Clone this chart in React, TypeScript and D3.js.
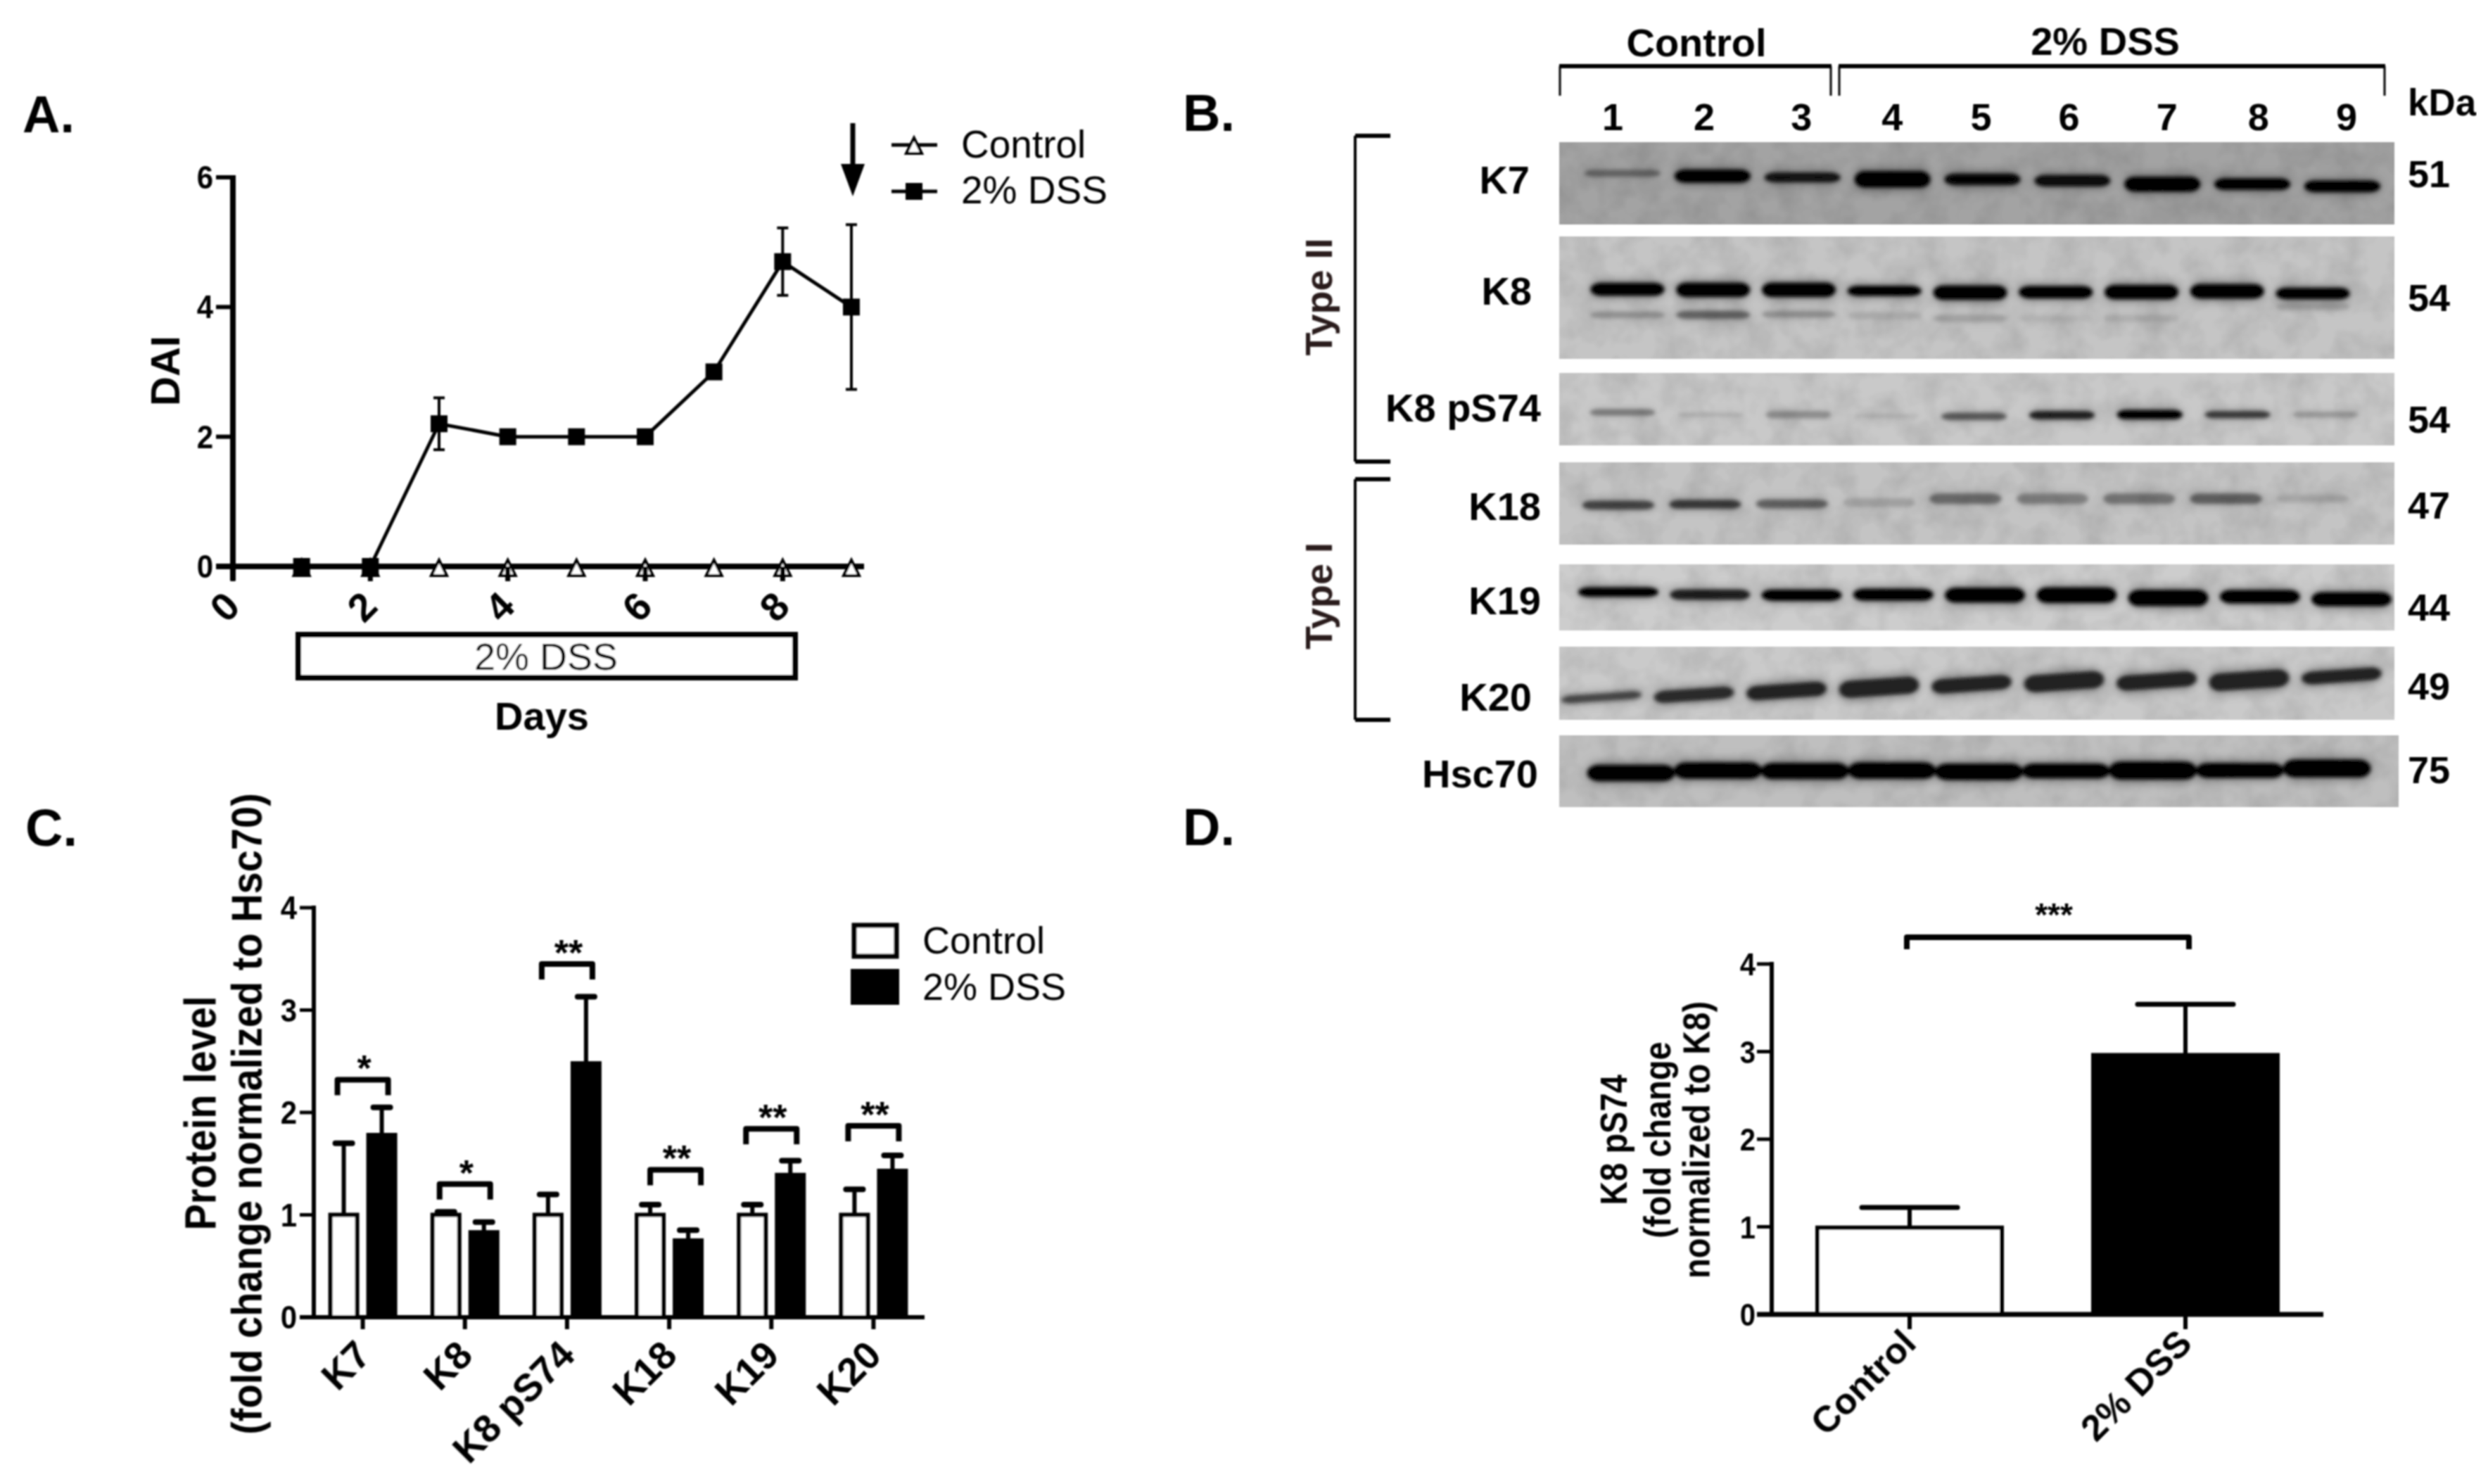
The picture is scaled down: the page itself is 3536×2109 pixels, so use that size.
import React from 'react';
import * as d3 from 'd3';

// ---------- Panel A data ----------
const days = [1, 2, 3, 4, 5, 6, 7, 8, 9];
const controlDai = [0, 0, 0, 0, 0, 0, 0, 0, 0];
const dssDai = [0, 0, 2.2, 2, 2, 2, 3, 4.7, 4];
const dssDaiUpper = [0, 0, 2.6, 2, 2, 2, 3, 5.22, 5.27];
const dssDaiLower = [0, 0, 1.8, 2, 2, 2, 3, 4.18, 2.73];
const daiYTicks = [0, 2, 4, 6];
const daiXTicks = [0, 2, 4, 6, 8];

// ---------- Panel B data ----------
const lanes = [1, 2, 3, 4, 5, 6, 7, 8, 9];
const k7Density = [0.35, 1, 0.85, 1, 0.95, 0.9, 1, 1, 1];
const k7Migration = [0.378, 0.412, 0.429, 0.452, 0.452, 0.469, 0.51, 0.51, 0.537];
const k7Thickness = [0.07, 0.136, 0.102, 0.17, 0.12, 0.12, 0.153, 0.12, 0.12];
const k8Density = [1, 1, 1, 1, 1, 1, 1, 1, 1];
const k8Migration = [0.432, 0.436, 0.436, 0.445, 0.459, 0.455, 0.455, 0.448, 0.466];
const k8Thickness = [0.09, 0.1, 0.1, 0.07, 0.1, 0.086, 0.1, 0.1, 0.08];
const k8LowerDensity = [0.3, 0.6, 0.3, 0.13, 0.2, 0.08, 0.12, 0, 0.2];
const k8LowerMigration = [0.641, 0.641, 0.636, 0.648, 0.67, 0.67, 0.67, 0.67, 0.573];
const k8LowerThickness = [0.05, 0.06, 0.05, 0.055, 0.055, 0.05, 0.055, 0.05, 0.055];
const pS74Density = [0.35, 0.1, 0.25, 0.08, 0.5, 0.8, 1, 0.65, 0.2];
const pS74Migration = [0.544, 0.575, 0.575, 0.594, 0.6, 0.582, 0.575, 0.575, 0.575];
const pS74Thickness = [0.077, 0.057, 0.084, 0.057, 0.084, 0.096, 0.107, 0.084, 0.07];
const k18Density = [0.6, 0.65, 0.45, 0.15, 0.4, 0.3, 0.35, 0.45, 0.12];
const k18Migration = [0.52, 0.51, 0.505, 0.489, 0.443, 0.443, 0.443, 0.443, 0.443];
const k18Thickness = [0.09, 0.09, 0.09, 0.09, 0.107, 0.107, 0.107, 0.107, 0.076];
const k19Density = [1, 0.8, 1, 1, 1, 1, 1, 1, 1];
const k19Migration = [0.42, 0.458, 0.466, 0.458, 0.466, 0.466, 0.508, 0.489, 0.527];
const k19Thickness = [0.122, 0.134, 0.145, 0.153, 0.19, 0.2, 0.21, 0.172, 0.183];
const k20Density = [0.7, 0.9, 0.95, 0.95, 0.95, 0.95, 0.95, 0.95, 0.95];
const k20Migration = [0.692, 0.658, 0.606, 0.555, 0.514, 0.479, 0.469, 0.459, 0.4];
const k20Thickness = [0.096, 0.144, 0.171, 0.2, 0.171, 0.2, 0.178, 0.205, 0.154];
const hscDensity = [1, 1, 1, 1, 1, 1, 1, 1, 1];
const hscMigration = [0.526, 0.491, 0.498, 0.491, 0.509, 0.498, 0.491, 0.491, 0.463];
const hscThickness = [0.193, 0.193, 0.193, 0.193, 0.193, 0.175, 0.21, 0.175, 0.21];

// ---------- Panel C data ----------
const proteins = ['K7', 'K8', 'K8 pS74', 'K18', 'K19', 'K20'];
const controlLevel = [1, 1, 1, 1, 1, 1];
const dssLevel = [1.78, 0.83, 2.48, 0.75, 1.39, 1.43];
const controlUpper = [1.7, 1.03, 1.2, 1.1, 1.1, 1.25];
const dssUpper = [2.05, 0.93, 3.13, 0.85, 1.53, 1.58];
const bracketLevel = [2.32, 1.3, 3.45, 1.44, 1.84, 1.87];
const significance = ['*', '*', '**', '**', '**', '**'];
const levelTicks = [0, 1, 2, 3, 4];

// ---------- Panel D data ----------
const groups = ['Control', '2% DSS'];
const ratioValues = [0.99, 2.96];
const ratioUpper = [1.22, 3.54];
const ratioTicks = [0, 1, 2, 3, 4];

const FONT = '"Liberation Sans", Arial, sans-serif';

function T({ x, y, size, rotate = 0, stretch = 1, weight = 'bold', anchor = 'middle', fill = '#000', children }: any) {
  return (
    <text
      transform={`translate(${x},${y}) rotate(${rotate}) scale(1,${stretch})`}
      fontFamily={FONT}
      fontSize={size}
      fontWeight={weight}
      textAnchor={anchor}
      fill={fill}
    >
      {children}
    </text>
  );
}

function PanelA() {
  const x = d3.scaleLinear().domain([0, 9]).range([331, 1210]);
  const y = d3.scaleLinear().domain([0, 6]).range([805, 252]);
  const line = d3.line<number>().x((_, i) => x(days[i])).y((d) => y(d));
  const tri = (cx: number, cy: number, s = 11) => `M${cx},${cy - 11} L${cx + s},${cy + 11} L${cx - s},${cy + 11} Z`;
  return (
    <g>
      <T x={32} y={188} size={74} anchor="start">A.</T>
      <line x1={x(0)} x2={x(0)} y1={y(6) - 3} y2={825} stroke="#000" strokeWidth={8} />
      {daiYTicks.map((t) => (
        <g key={t}>
          <line x1={307} x2={x(0)} y1={y(t)} y2={y(t)} stroke="#000" strokeWidth={6} />
          <T x={303} y={y(t) + 16} size={42} stretch={1.1} anchor="end">{t}</T>
        </g>
      ))}
      <path d={line(controlDai) as string} fill="none" stroke="#000" strokeWidth={8} />
      <line x1={307} x2={1228} y1={y(0)} y2={y(0)} stroke="#000" strokeWidth={8} />
      {days.map((d, i) => (
        <path key={d} d={tri(x(d), y(controlDai[i]) + 2)} fill="#fff" stroke="#000" strokeWidth={4} />
      ))}
      {daiXTicks.map((t) => (
        <g key={t}>
          <line x1={x(t)} x2={x(t)} y1={y(0)} y2={826} stroke="#000" strokeWidth={7} />
          <T x={x(t) + 2} y={876} size={56} rotate={-45}>{t}</T>
        </g>
      ))}
      <path d={line(dssDai) as string} fill="none" stroke="#000" strokeWidth={5} />
      {days.map((d, i) => (
        <g key={d}>
          {dssDaiUpper[i] !== dssDaiLower[i] && (
            <g stroke="#000" strokeWidth={4}>
              <line x1={x(d)} x2={x(d)} y1={y(dssDaiUpper[i])} y2={y(dssDaiLower[i])} />
              <line x1={x(d) - 8} x2={x(d) + 8} y1={y(dssDaiUpper[i])} y2={y(dssDaiUpper[i])} />
              <line x1={x(d) - 8} x2={x(d) + 8} y1={y(dssDaiLower[i])} y2={y(dssDaiLower[i])} />
            </g>
          )}
          <rect x={x(d) - 12} y={y(dssDai[i]) - 12} width={24} height={24} fill="#000" />
        </g>
      ))}
      <T x={255} y={527} size={58} rotate={-90}>DAI</T>
      <rect x={424} y={902} width={706} height={61} fill="#fff" stroke="#000" strokeWidth={8} />
      <T x={776} y={952} size={54} weight="normal">2% DSS</T>
      <T x={770} y={1037} size={56}>Days</T>
      <line x1={1212} x2={1212} y1={175} y2={240} stroke="#000" strokeWidth={7} />
      <path d="M1195,233 L1229,233 L1212,279 Z" fill="#000" />
      <line x1={1267} x2={1332} y1={206} y2={206} stroke="#000" strokeWidth={5} />
      <path d={tri(1299, 207)} fill="#fff" stroke="#000" strokeWidth={4} />
      <T x={1366} y={224} size={55} weight="normal" anchor="start">Control</T>
      <line x1={1267} x2={1332} y1={272} y2={272} stroke="#000" strokeWidth={5} />
      <rect x={1287} y={260} width={24} height={24} fill="#000" />
      <T x={1366} y={289} size={55} weight="normal" anchor="start">2% DSS</T>
    </g>
  );
}

function PanelB() {
  const rows = [
    { name: 'K7', kDa: 51, top: 202, bottom: 319, bg: '#a3a3a3', x0: 2306, x1: 3329, w: 108, lx: 2174, ly: 275, ky: 266, density: k7Density, migration: k7Migration, thickness: k7Thickness },
    { name: 'K8', kDa: 54, top: 336, bottom: 510, bg: '#c5c5c5', x0: 2313, x1: 3287, w: 105, lx: 2177, ly: 433, ky: 442, density: k8Density, migration: k8Migration, thickness: k8Thickness, lowerD: k8LowerDensity, lowerM: k8LowerMigration, lowerT: k8LowerThickness },
    { name: 'K8 pS74', kDa: 54, top: 530, bottom: 633, bg: '#c9c9c9', x0: 2306, x1: 3305, w: 93, lx: 2190, ly: 599, ky: 615, density: pS74Density, migration: pS74Migration, thickness: pS74Thickness },
    { name: 'K18', kDa: 47, top: 657, bottom: 774, bg: '#c4c4c4', x0: 2300, x1: 3287, w: 102, lx: 2190, ly: 739, ky: 737, density: k18Density, migration: k18Migration, thickness: k18Thickness },
    { name: 'K19', kDa: 44, top: 802, bottom: 896, bg: '#cdcdcd', x0: 2300, x1: 3342, w: 114, lx: 2190, ly: 873, ky: 882, density: k19Density, migration: k19Migration, thickness: k19Thickness },
    { name: 'K20', kDa: 49, top: 919, bottom: 1023, bg: '#cacaca', x0: 2276, x1: 3328, w: 114, lx: 2177, ly: 1010, ky: 994, density: k20Density, migration: k20Migration, thickness: k20Thickness, tilt: -4, band: '#1c1c1c' },
    { name: 'Hsc70', kDa: 75, top: 1045, bottom: 1147, bg: '#bfbfbf', x0: 2318, x1: 3307, w: 125, lx: 2186, ly: 1119, ky: 1113, density: hscDensity, migration: hscMigration, thickness: hscThickness },
  ] as any[];
  const laneLabelX = d3.scalePoint<number>().domain(lanes).range([2292, 3333]);
  const laneNudge = [0, 0, 8, 7, 3, -2, 7, 7, 2];
  return (
    <g>
      <defs>
        <filter id="bandCore" x="-20%" y="-80%" width="140%" height="260%">
          <feGaussianBlur stdDeviation="2.5" />
        </filter>
        <filter id="bandHalo" x="-20%" y="-120%" width="140%" height="340%">
          <feGaussianBlur stdDeviation="7" />
        </filter>
        <filter id="mottle" x="0" y="0" width="100%" height="100%">
          <feTurbulence type="fractalNoise" baseFrequency="0.025" numOctaves="3" seed="4" />
          <feColorMatrix values="0 0 0 0 0  0 0 0 0 0  0 0 0 0 0  0.55 0 0 0 -0.2" />
        </filter>
      </defs>
      <T x={1681} y={186} size={74} anchor="start">B.</T>
      <T x={2411} y={80} size={56}>Control</T>
      <T x={2992} y={78} size={56}>2% DSS</T>
      <path d="M2217,136 V94" stroke="#000" strokeWidth={3} />
      <path d="M2602,136 V94" stroke="#000" strokeWidth={3} />
      <path d="M2614,136 V94" stroke="#000" strokeWidth={3} />
      <path d="M3389,136 V94" stroke="#000" strokeWidth={3} />
      <path d="M2216,94 H2603" stroke="#000" strokeWidth={6} />
      <path d="M2613,94 H3390" stroke="#000" strokeWidth={6} />
      <T x={3422} y={164} size={53} anchor="start">kDa</T>
      {lanes.map((l, i) => (
        <T key={l} x={(laneLabelX(l) as number) + laneNudge[i]} y={185} size={54}>{l}</T>
      ))}
      <path d="M1926,193 V656" stroke="#000" strokeWidth={4} />
      <path d="M1926,193 H1976 M1926,656 H1976" stroke="#000" strokeWidth={6} />
      <path d="M1926,681 V1023" stroke="#000" strokeWidth={4} />
      <path d="M1926,681 H1976 M1926,1023 H1976" stroke="#000" strokeWidth={6} />
      <T x={1893} y={422} size={54} rotate={-90} fill="#2a1f1f">Type II</T>
      <T x={1893} y={847} size={54} rotate={-90} fill="#2a1f1f">Type I</T>
      {rows.map((r) => {
        const lx = d3.scalePoint<number>().domain(lanes).range([r.x0, r.x1]);
        const my = d3.scaleLinear().domain([0, 1]).range([r.top, r.bottom]);
        const h = r.bottom - r.top;
        const width = r.name === 'Hsc70' ? 1193 : 1187;
        const clip = `clip-${r.name.replace(' ', '')}`;
        const drawBands = (den: number[], mig: number[], thk: number[], scale: number, alpha: number) =>
          lanes.map((l, i) => {
            const bh = Math.max(thk[i] * h * scale, 6);
            const cx = lx(l) as number;
            const cy = my(mig[i]);
            return (
              <rect
                key={l}
                x={cx - r.w / 2}
                y={cy - bh / 2}
                width={r.w}
                height={bh}
                rx={r.w * 0.14}
                ry={bh / 2}
                fill={r.band || '#000'}
                opacity={den[i] * alpha}
                transform={r.tilt ? `rotate(${r.tilt} ${cx} ${cy})` : undefined}
              />
            );
          });
        return (
          <g key={r.name}>
            <clipPath id={clip}>
              <rect x={2216} y={r.top} width={width} height={h} />
            </clipPath>
            <rect x={2216} y={r.top} width={width} height={h} fill={r.bg} />
            <rect x={2216} y={r.top} width={width} height={h} filter="url(#mottle)" opacity={0.35} />
            <g clipPath={`url(#${clip})`}>
              <g filter="url(#bandHalo)">
                {r.lowerD && drawBands(r.lowerD, r.lowerM, r.lowerT, 1.6, 0.3)}
                {drawBands(r.density, r.migration, r.thickness, 1.6, 0.35)}
              </g>
              <g filter="url(#bandCore)">
                {r.lowerD && drawBands(r.lowerD, r.lowerM, r.lowerT, 1.1, 0.7)}
                {drawBands(r.density, r.migration, r.thickness, 1.2, 1)}
              </g>
            </g>
            <T x={r.lx} y={r.ly} size={56} anchor="end">{r.name}</T>
            <T x={3422} y={r.ky} size={54} anchor="start">{r.kDa}</T>
          </g>
        );
      })}
    </g>
  );
}

function PanelC() {
  const x = d3.scaleBand<string>().domain(proteins).range([443, 1314]).paddingInner(0).paddingOuter(0);
  const y = d3.scaleLinear().domain([0, 4]).range([1872, 1290]);
  const off = 27;
  const bw = 38;
  const cx = (p: string) => (x(p) as number) + x.bandwidth() / 2;
  const bracketNudge = [0, 0, 0, 9, 0, 0];
  return (
    <g>
      <T x={36} y={1202} size={74} anchor="start">C.</T>
      <T x={306} y={1582} size={56} stretch={1.14} rotate={-90}>Protein level</T>
      <T x={372} y={1583} size={56} stretch={1.1} rotate={-90}>(fold change normalized to Hsc70)</T>
      {proteins.map((p, i) => {
        const bx = cx(p) + bracketNudge[i];
        const by = y(bracketLevel[i]);
        return (
          <g key={p}>
            <line x1={cx(p) - off} x2={cx(p) - off} y1={y(controlUpper[i])} y2={y(controlLevel[i])} stroke="#000" strokeWidth={6} />
            <line x1={cx(p) - off - 12} x2={cx(p) - off + 12} y1={y(controlUpper[i])} y2={y(controlUpper[i])} stroke="#000" strokeWidth={8} strokeLinecap="round" />
            <rect x={cx(p) - off - bw / 2} y={y(controlLevel[i])} width={bw} height={y(0) - y(controlLevel[i])} fill="#fff" stroke="#000" strokeWidth={6} />
            <line x1={cx(p) + off} x2={cx(p) + off} y1={y(dssUpper[i])} y2={y(dssLevel[i])} stroke="#000" strokeWidth={6} />
            <line x1={cx(p) + off - 12} x2={cx(p) + off + 12} y1={y(dssUpper[i])} y2={y(dssUpper[i])} stroke="#000" strokeWidth={8} strokeLinecap="round" />
            <rect x={cx(p) + off - bw / 2} y={y(dssLevel[i])} width={bw} height={y(0) - y(dssLevel[i])} fill="#000" stroke="#000" strokeWidth={6} />
            <path d={`M${bx - 36},${by + 22} V${by} H${bx + 36} V${by + 22}`} fill="none" stroke="#000" strokeWidth={8} strokeLinejoin="round" />
            <T x={bx + 2} y={by + 2} size={52}>{significance[i]}</T>
            <line x1={cx(p)} x2={cx(p)} y1={y(0)} y2={1889} stroke="#000" strokeWidth={6} />
            <T x={cx(p) + 14} y={1929} size={55} rotate={-45} anchor="end">{p}</T>
          </g>
        );
      })}
      <line x1={446} x2={446} y1={y(4) - 3} y2={y(0)} stroke="#000" strokeWidth={6} />
      {levelTicks.map((t) => (
        <g key={t}>
          <line x1={426} x2={446} y1={y(t)} y2={y(t)} stroke="#000" strokeWidth={5} />
          <T x={422} y={y(t) + 16} size={42} stretch={1.1} anchor="end">{t}</T>
        </g>
      ))}
      <line x1={426} x2={1314} y1={y(0)} y2={y(0)} stroke="#000" strokeWidth={6} />
      <rect x={1214} y={1315} width={60} height={44} fill="#fff" stroke="#000" strokeWidth={7} />
      <rect x={1209} y={1377} width={69} height={51} fill="#000" />
      <T x={1311} y={1355} size={54} weight="normal" anchor="start">Control</T>
      <T x={1311} y={1421} size={54} weight="normal" anchor="start">2% DSS</T>
    </g>
  );
}

function PanelD() {
  const x = d3.scaleBand<string>().domain(groups).range([2518, 3302]);
  const y = d3.scaleLinear().domain([0, 4]).range([1868, 1370]);
  const bw = 262;
  const tickX = [2714, 3106];
  return (
    <g>
      <T x={1681} y={1201} size={74} anchor="start">D.</T>
      <T x={2312} y={1620} size={47} stretch={1.14} rotate={-90}>K8 pS74</T>
      <T x={2374} y={1620} size={47} stretch={1.14} rotate={-90}>(fold change</T>
      <T x={2430} y={1620} size={47} stretch={1.14} rotate={-90}>normalized to K8)</T>
      {groups.map((g, i) => {
        const c = (x(g) as number) + x.bandwidth() / 2;
        return (
          <g key={g}>
            <line x1={c} x2={c} y1={y(ratioUpper[i])} y2={y(ratioValues[i])} stroke="#000" strokeWidth={6} />
            <line x1={c - 68} x2={c + 68} y1={y(ratioUpper[i])} y2={y(ratioUpper[i])} stroke="#000" strokeWidth={7} strokeLinecap="round" />
            <rect x={c - bw / 2} y={y(ratioValues[i])} width={bw} height={y(0) - y(ratioValues[i])} fill={i === 0 ? '#fff' : '#000'} stroke="#000" strokeWidth={6} />
            <line x1={tickX[i]} x2={tickX[i]} y1={y(0)} y2={1889} stroke="#000" strokeWidth={6} />
            <T x={tickX[i] + 12} y={1912} size={52} rotate={-45} anchor="end">{g}</T>
          </g>
        );
      })}
      <line x1={2518} x2={2518} y1={y(4) - 3} y2={y(0)} stroke="#000" strokeWidth={6} />
      {ratioTicks.map((t) => (
        <g key={t}>
          <line x1={2497} x2={2518} y1={y(t)} y2={y(t)} stroke="#000" strokeWidth={5} />
          <T x={2495} y={y(t) + 16} size={40} stretch={1.1} anchor="end">{t}</T>
        </g>
      ))}
      <line x1={2497} x2={3302} y1={y(0)} y2={y(0)} stroke="#000" strokeWidth={7} />
      <path d="M2710,1349 V1332 H3111 V1349" fill="none" stroke="#000" strokeWidth={8} strokeLinejoin="round" />
      <T x={2919} y={1316} size={46}>***</T>
    </g>
  );
}

export default function App() {
  return (
    <svg
      width={3536}
      height={2109}
      viewBox="0 0 3536 2109"
      style={{ position: 'absolute', left: 0, top: 0, display: 'block', background: '#fff' }}
    >
      <defs>
        <filter id="soft" x="0" y="0" width="100%" height="100%">
          <feGaussianBlur stdDeviation="0.8" />
        </filter>
      </defs>
      <rect width={3536} height={2109} fill="#fff" />
      <g filter="url(#soft)">
        <PanelA />
        <PanelB />
        <PanelC />
        <PanelD />
      </g>
    </svg>
  );
}
